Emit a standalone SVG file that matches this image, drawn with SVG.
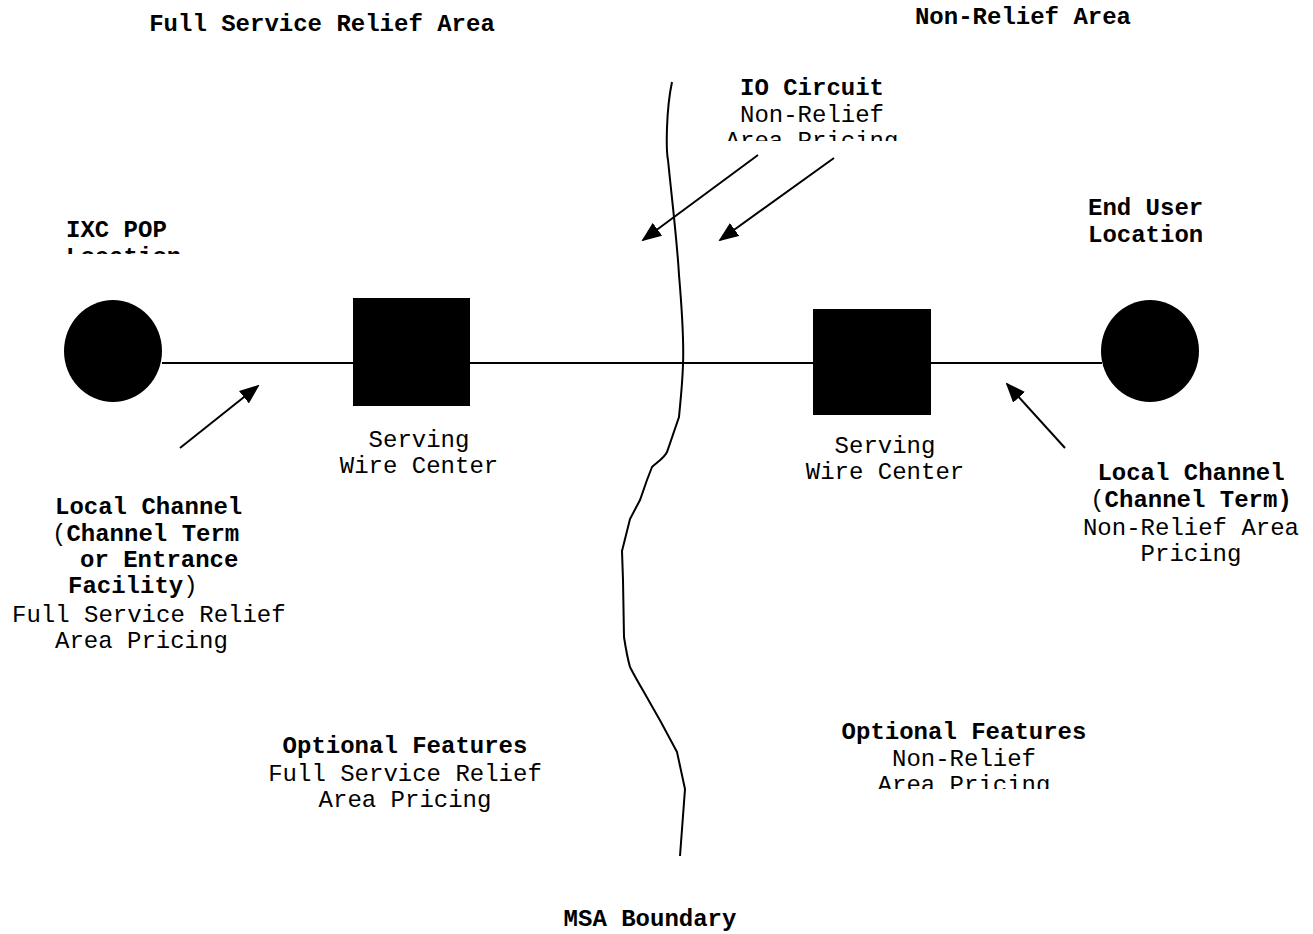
<svg xmlns="http://www.w3.org/2000/svg" width="1313" height="934" viewBox="0 0 1313 934">
<style>
text{font-family:"Liberation Mono","Courier New",monospace;font-size:24px;fill:#000}
.b{font-weight:bold}
.c{text-anchor:middle}
.ln{stroke:#000;stroke-width:2;fill:none}
.ar{stroke:#000;stroke-width:2;fill:none;marker-end:url(#ah)}
</style>
<defs>
<marker id="ah" markerWidth="20" markerHeight="16" refX="18" refY="8" orient="auto" markerUnits="userSpaceOnUse">
<path d="M0,0 L20,8 L0,16 Z" fill="#000"/>
</marker>
<clipPath id="clipIO"><rect x="700" y="60" width="260" height="81"/></clipPath>
<clipPath id="clipIXC"><rect x="40" y="210" width="200" height="44"/></clipPath>
<clipPath id="clipOF"><rect x="820" y="710" width="290" height="79"/></clipPath>
</defs>
<rect width="1313" height="934" fill="#fff"/>

<g id="connectors">
<line class="ln" x1="162" y1="363" x2="1102" y2="363"/>
<path id="msa-boundary" class="ln" d="M672,82 C666,110 666,150 668,160 C672,200 677,240 679,275 C682,310 684,340 683,365 C682,390 680,405 679,417 L667,452 C664,458 660,460 652,467 L647,480 L640,500 L630,519 L622,551 L623,580 L624,637 C626,650 628,660 630,667 C640,687 650,700 677,752 L685,789 L680,856"/>
<line class="ar" x1="180" y1="448" x2="258" y2="386"/>
<line class="ar" x1="1065" y1="448" x2="1007" y2="384"/>
<line class="ar" x1="758" y1="155" x2="643" y2="240"/>
<line class="ar" x1="834" y1="158" x2="720" y2="240"/>
</g>

<g id="ixc-pop">
<ellipse cx="113" cy="351" rx="49" ry="51" fill="#000"/>
<g clip-path="url(#clipIXC)">
<text class="b" x="66" y="237">IXC POP</text>
<text class="b" x="66" y="264">Location</text>
</g>
</g>

<g id="end-user">
<ellipse cx="1150" cy="351" rx="49" ry="51" fill="#000"/>
<text class="b" x="1088" y="215">End User</text>
<text class="b" x="1088" y="242">Location</text>
</g>

<g id="swc-left">
<rect x="353" y="298" width="117" height="108" fill="#000"/>
<text class="c" x="419" y="447">Serving</text>
<text class="c" x="419" y="473">Wire Center</text>
</g>

<g id="swc-right">
<rect x="813" y="309" width="118" height="106" fill="#000"/>
<text class="c" x="885" y="453">Serving</text>
<text class="c" x="885" y="479">Wire Center</text>
</g>

<g id="title-left">
<text class="b c" x="322" y="31">Full Service Relief Area</text>
</g>
<g id="title-right">
<text class="b c" x="1023" y="24">Non-Relief Area</text>
</g>

<g id="io-circuit" clip-path="url(#clipIO)">
<text class="b c" x="812" y="95">IO Circuit</text>
<text class="c" x="812" y="122">Non-Relief</text>
<text class="c" x="812" y="148">Area Pricing</text>
</g>

<g id="local-channel-left">
<text class="b" x="55" y="514">Local Channel</text>
<text x="52" y="541">(<tspan class="b">Channel Term</tspan></text>
<text class="b" x="80" y="567">or Entrance</text>
<text x="68" y="593"><tspan class="b">Facility</tspan>)</text>
<text x="12" y="622">Full Service Relief</text>
<text x="55" y="648">Area Pricing</text>
</g>

<g id="local-channel-right">
<text class="b c" x="1191" y="480">Local Channel</text>
<text class="c" x="1191" y="507">(<tspan class="b">Channel Term)</tspan></text>
<text class="c" x="1191" y="535">Non-Relief Area</text>
<text class="c" x="1191" y="561">Pricing</text>
</g>

<g id="optional-left">
<text class="b c" x="405" y="753">Optional Features</text>
<text class="c" x="405" y="781">Full Service Relief</text>
<text class="c" x="405" y="807">Area Pricing</text>
</g>

<g id="optional-right" clip-path="url(#clipOF)">
<text class="b c" x="964" y="739">Optional Features</text>
<text class="c" x="964" y="766">Non-Relief</text>
<text class="c" x="964" y="792">Area Pricing</text>
</g>

<g id="msa-label">
<text class="b c" x="650" y="926">MSA Boundary</text>
</g>
</svg>
